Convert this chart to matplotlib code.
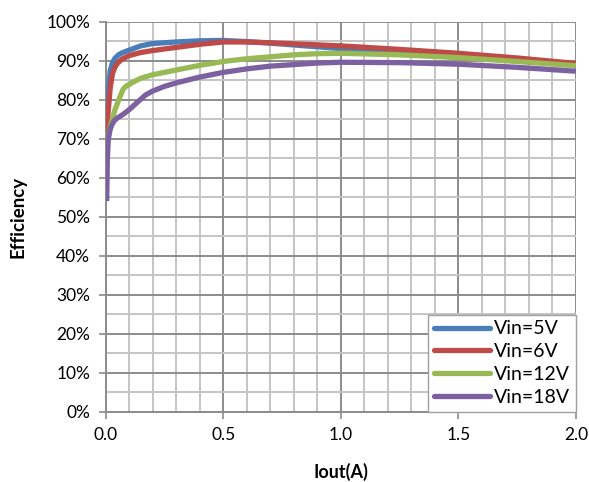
import matplotlib
matplotlib.use("Agg")
import matplotlib.pyplot as plt
from matplotlib.ticker import MultipleLocator, FuncFormatter

# Data
x_5v = [0.005, 0.01, 0.02, 0.03, 0.04, 0.055, 0.07, 0.1, 0.15, 0.2, 0.3, 0.4, 0.5,
        0.6, 0.7, 0.85, 1.0, 1.25, 1.5, 1.75, 2.0]
eff_5v = [72, 80, 87.5, 89.5, 90.6, 91.5, 92.0, 92.7, 93.8, 94.4, 94.8, 95.1, 95.2,
          94.9, 94.5, 93.8, 93.1, 92.1, 91.0, 90.0, 88.9]

x_6v = [0.005, 0.01, 0.02, 0.03, 0.04, 0.05, 0.07, 0.1, 0.15, 0.2, 0.3, 0.4, 0.5,
        0.6, 0.7, 0.85, 1.0, 1.25, 1.5, 1.75, 2.0]
eff_6v = [69, 76, 83, 86.8, 88.3, 89.3, 90.4, 91.3, 92.1, 92.6, 93.4, 94.2, 94.8,
          94.8, 94.6, 94.2, 93.8, 92.9, 91.9, 90.7, 89.3]

x_12v = [0.005, 0.02, 0.04, 0.06, 0.075, 0.09, 0.1, 0.12, 0.15, 0.2, 0.3, 0.4, 0.5,
         0.6, 0.7, 0.8, 0.9, 1.0, 1.25, 1.5, 1.75, 2.0]
eff_12v = [68, 73, 77.4, 80.5, 82.7, 83.6, 83.9, 84.6, 85.5, 86.4, 87.6, 88.8, 89.8,
           90.5, 91.0, 91.5, 91.8, 91.9, 91.5, 90.8, 89.8, 88.7]

x_18v = [0.005, 0.008, 0.012, 0.02, 0.03, 0.04, 0.055, 0.069, 0.085, 0.1, 0.12, 0.14,
         0.17, 0.2, 0.25, 0.3, 0.4, 0.5, 0.6, 0.7, 0.8, 0.9, 1.0, 1.25, 1.5, 1.75, 2.0]
eff_18v = [54, 65, 70, 72.5, 73.9, 74.8, 75.5, 76.0, 76.7, 77.4, 78.5, 79.6,
           81.2, 82.2, 83.4, 84.3, 85.8, 87.0, 87.9, 88.6, 89.0, 89.4, 89.6, 89.5, 89.1, 88.3, 87.3]

series_labels = ["Vin=5V", "Vin=6V", "Vin=12V", "Vin=18V"]
colors = ["#4A7EBB", "#BE4B48", "#98B954", "#7D60A0"]

plt.rcParams['font.family'] = ['Lato', 'DejaVu Sans']

fig = plt.figure(figsize=(5.89, 4.82), dpi=100)
ax = fig.add_axes([105.5 / 589, 1 - 411.7 / 482, (576 - 105.5) / 589, (411.7 - 21.7) / 482])

for xs, ys, lab, c in zip([x_5v, x_6v, x_12v, x_18v],
                          [eff_5v, eff_6v, eff_12v, eff_18v],
                          series_labels, colors):
    ax.plot(xs, ys, color=c, lw=3.8, label=lab, solid_capstyle='butt',
            solid_joinstyle='round', zorder=3)

ax.set_xlim(0, 2.0)
ax.set_ylim(0, 100)
ax.xaxis.set_major_locator(MultipleLocator(0.5))
ax.xaxis.set_minor_locator(MultipleLocator(0.1))
ax.yaxis.set_major_locator(MultipleLocator(10))
ax.yaxis.set_minor_locator(MultipleLocator(5))
ax.xaxis.set_major_formatter(FuncFormatter(lambda v, p: f"{v:.1f}"))
ax.yaxis.set_major_formatter(FuncFormatter(lambda v, p: f"{v:.0f}%"))

ax.grid(which='major', color='#8c8c8c', lw=1.4, zorder=1)
ax.grid(which='minor', color='#c4c4c4', lw=1.4, zorder=1)
ax.set_axisbelow(True)

for s in ['top', 'right']:
    ax.spines[s].set_visible(False)
for s in ['left', 'bottom']:
    ax.spines[s].set_color('#8c8c8c')
    ax.spines[s].set_linewidth(1.4)

ax.tick_params(which='major', direction='out', length=5, color='#8c8c8c', width=1.2,
               labelsize=12.5, pad=6)
ax.tick_params(which='minor', direction='out', length=0)

ax.set_xlabel("Iout(A)", fontsize=13, fontweight='bold', labelpad=14)
ax.set_ylabel("Efficiency", fontsize=13.5, fontweight='bold', labelpad=14)

leg = ax.legend(loc='lower right', fontsize=14, frameon=True, fancybox=False,
                handlelength=2.9, handletextpad=0.2, borderpad=0.3, labelspacing=0.3,
                borderaxespad=0.0)
leg.get_frame().set_edgecolor('#a0a0a0')
leg.get_frame().set_linewidth(1.0)
leg.get_frame().set_alpha(1.0)
for l in leg.get_lines():
    l.set_solid_capstyle('round')

fig.savefig("out.png", dpi=100)
